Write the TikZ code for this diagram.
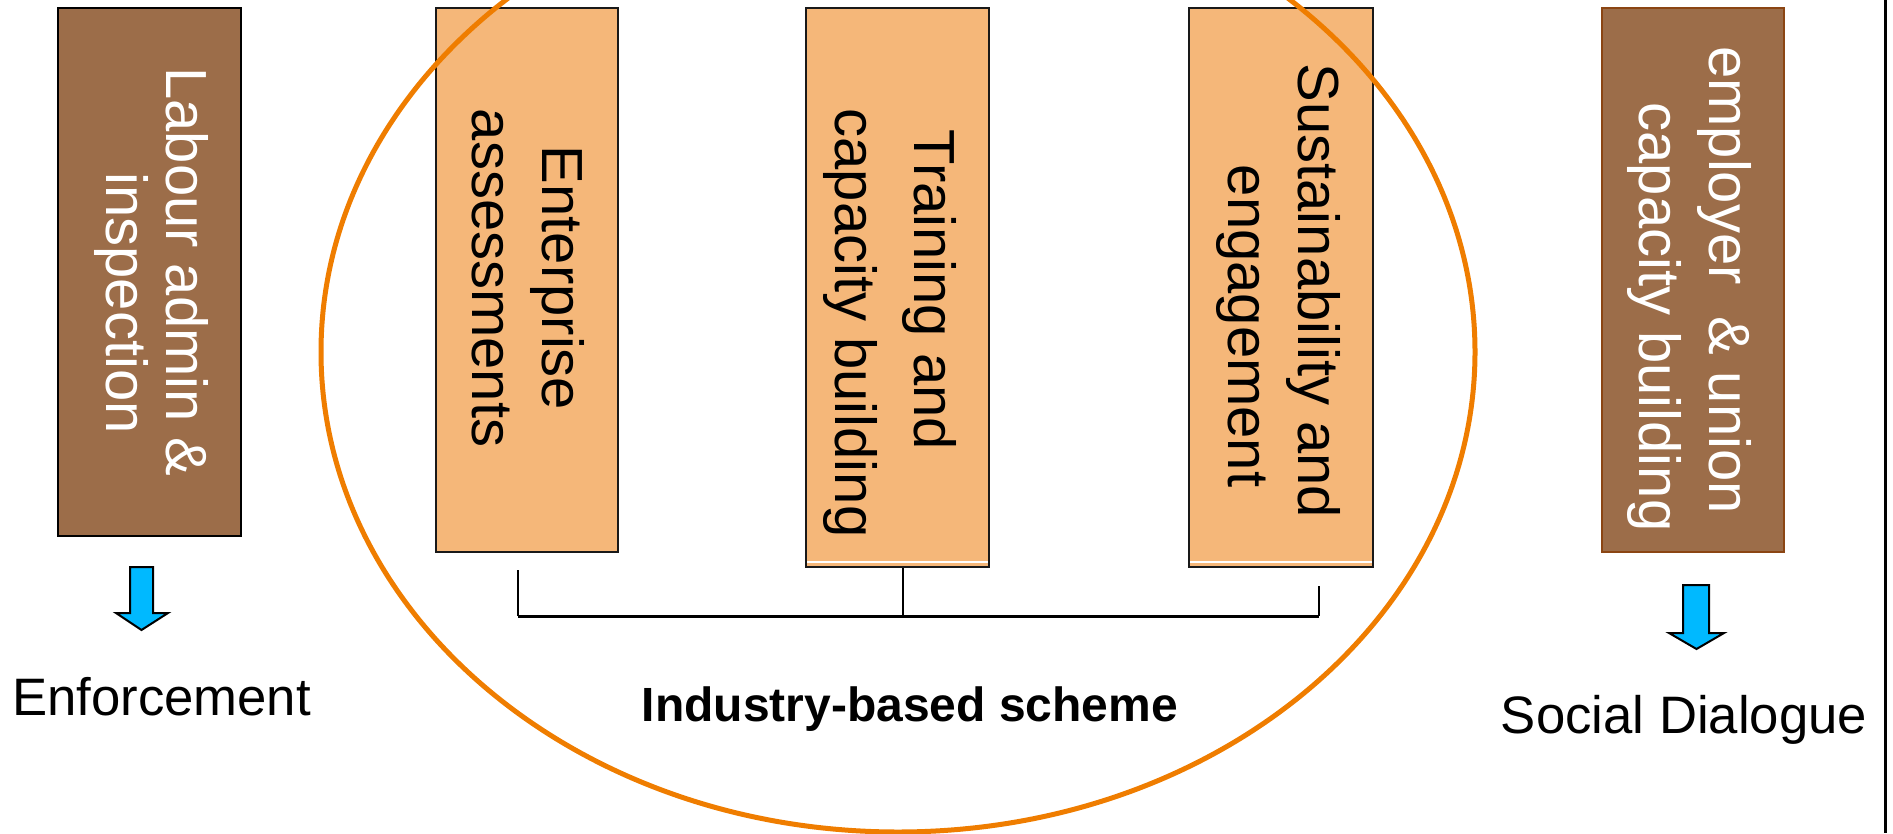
\documentclass[tikz,border=0pt]{standalone}
\usepackage{fontspec}
\setmainfont{Liberation Sans}
\definecolor{boxbrown}{RGB}{156,109,73}
\definecolor{brownline}{RGB}{139,69,19}
\definecolor{boxorange}{RGB}{245,183,121}
\definecolor{ringorange}{RGB}{239,125,0}
\definecolor{arrowblue}{RGB}{0,185,255}
\begin{document}
\begin{tikzpicture}[x=1pt,y=-1pt,
  boxbase/.style={rectangle,inner sep=0pt,line width=2pt},
  brownbox/.style={boxbase,draw=black,fill=boxbrown},
  brownboxb/.style={boxbase,draw=brownline,fill=boxbrown},
  orangebox/.style={boxbase,draw=black!90,fill=boxorange},
  vtext/.style={rotate=-90,align=center,inner sep=0pt,font=\fontsize{58}{70}\selectfont},
  labeltext/.style={anchor=base,inner sep=0pt,font=\fontsize{52.7}{60}\selectfont},
  downarrow/.style={draw=black,line width=2pt,fill=arrowblue,line join=miter},
  bracketline/.style={draw=black,line width=2pt},
  ring/.style={draw=ringorange,line width=5pt}]
\useasboundingbox (0,0) rectangle (1893,833);

% boxes
\node[brownbox,minimum width=183pt,minimum height=528pt] (labour) at (149.5,272) {};
\node[orangebox,minimum width=182pt,minimum height=544pt] (enterprise) at (527,280) {};
\node[orangebox,minimum width=183pt,minimum height=559pt] (training) at (897.5,287.5) {};
\node[orangebox,minimum width=184pt,minimum height=559pt] (sustain) at (1281,287.5) {};
\node[brownboxb,minimum width=182pt,minimum height=544pt] (employer) at (1693,280) {};

% thin white lines near the bottom of two boxes
\draw[white,line width=1.2pt] ([xshift=2pt,yshift=6pt]training.south west) -- ([xshift=-2pt,yshift=6pt]training.south east);
\draw[white,line width=1.2pt] ([xshift=2pt,yshift=6pt]sustain.south west) -- ([xshift=-2pt,yshift=6pt]sustain.south east);

% box texts
\node[vtext,text=white,font=\fontsize{58}{60}\selectfont] (labourtxt) at (151,272) {Labour admin \&\\\hspace*{62pt}inspection};
\node[vtext] (enttxt) at (528,278) {Enterprise\\assessments};
\node[vtext,font=\fontsize{58}{79}\selectfont] (traintxt) at (890,290) {Training and\\\hspace*{66pt}capacity building};
\node[vtext] (sustxt) at (1278,291) {Sustainability and\\\hspace*{70pt}engagement};
\node[vtext,text=white] (emptxt) at (1689,280) {employer \ \& union\\\hspace*{74pt}capacity building};

% bracket
\coordinate (bl) at (518,570);
\coordinate (br) at (1319,586);
\coordinate (bt) at ([xshift=5.5pt]training.south);
\coordinate (bm) at (bt |- 0,616);
\draw[bracketline,line width=3pt] (bl |- bm) -- (br |- bm);
\draw[bracketline] (bl) -- (bl |- bm);
\draw[bracketline] (br) -- (br |- bm);
\draw[bracketline] (bt) -- (bm);

% block arrows
\draw[downarrow] (130,567) -- (153,567) -- (153,613) -- (168,613) -- (141.5,630) -- (116,613) -- (130,613) -- cycle;
\draw[downarrow] (1683,585) -- (1709,585) -- (1709,633) -- (1724,633) -- (1696.5,649) -- (1669,633) -- (1683,633) -- cycle;

% labels
\node[labeltext] (enforce) at (161.5,715) {Enforcement};
\node[labeltext] (social) at (1684,733) {Social Dialogue};
\node[labeltext,font=\bfseries\fontsize{48}{56}\selectfont] (scheme) at (910,721) {Industry-based scheme};

% ring
\draw[ring] (898,352) ellipse [x radius=577, y radius=480];

% right border
\draw[line width=3pt] (1885,0) -- (1885,833);
\end{tikzpicture}
\end{document}
